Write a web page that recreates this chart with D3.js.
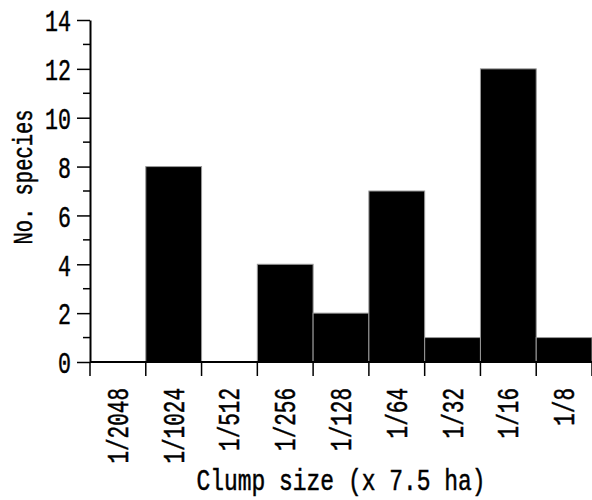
<!DOCTYPE html>
<html>
<head>
<meta charset="utf-8">
<script src="https://cdn.jsdelivr.net/npm/d3@7"></script>
<style>
  body { margin: 0; background: #fff; }
  text { font-family: "Liberation Mono", "DejaVu Sans Mono", monospace; fill: #000; stroke: #000; stroke-width: 0.5px; }
</style>
</head>
<body>
<svg id="chart" width="592" height="500"></svg>
<script>
// clump size classes and species counts
var sizes = ["1/2048", "1/1024", "1/512", "1/256", "1/128", "1/64", "1/32", "1/16", "1/8"];
var species = [0, 8, 0, 4, 2, 7, 1, 12, 1];
var yTicks = [0, 2, 4, 6, 8, 10, 12, 14];
var yMinor = [1, 3, 5, 7, 9, 11, 13];

var margin = {top: 20, right: 0, bottom: 138, left: 90};
var width = 592 - margin.left - margin.right;
var height = 500 - margin.top - margin.bottom;

var svg = d3.select("#chart");
var g = svg.append("g").attr("transform", "translate(" + margin.left + "," + margin.top + ")");

var x = d3.scaleBand().domain(sizes).range([0, width]).padding(0);
var y = d3.scaleLinear().domain([0, 14]).range([height, 0]);

// bars (empty classes are not drawn)
g.selectAll("rect.bar")
	.data(sizes.filter(function(d, i) { return species[i] > 0; }))
	.enter()
	.append("rect")
	.attr("class", "bar")
	.attr("x", function(d) { return x(d); })
	.attr("width", x.bandwidth())
	.attr("y", function(d) { return y(species[sizes.indexOf(d)]); })
	.attr("height", function(d) { return height - y(species[sizes.indexOf(d)]); })
	.attr("fill", "#000")
	.attr("stroke", "#999")
	.attr("stroke-width", 1);

// y axis, major ticks
var yAxis = g.append("g")
	.call(d3.axisLeft(y).tickValues(yTicks).tickSize(13).tickSizeOuter(0).tickFormat(d3.format("d")));
yAxis.select(".domain").attr("stroke-width", 2);
yAxis.selectAll(".tick line").attr("stroke-width", 1.5);
yAxis.selectAll(".tick text")
	.attr("x", -19 / 0.72)
	.attr("dy", "0.36em")
	.attr("transform", "scale(0.72,1)")
	.style("font-size", "30px");

// y axis, minor ticks
g.append("g").selectAll("line")
	.data(yMinor)
	.enter()
	.append("line")
	.attr("x1", -7).attr("x2", 0)
	.attr("y1", function(d) { return y(d); })
	.attr("y2", function(d) { return y(d); })
	.attr("stroke", "#000")
	.attr("stroke-width", 1.5);

// x axis
var xAxis = g.append("g").attr("transform", "translate(0," + height + ")");
xAxis.append("line")
	.attr("x1", 0).attr("x2", width)
	.attr("stroke", "#000").attr("stroke-width", 2);

var edges = sizes.map(function(d) { return x(d); }).concat([x.range()[1]]);
xAxis.selectAll("line.tick")
	.data(edges)
	.enter()
	.append("line")
	.attr("class", "tick")
	.attr("x1", function(d) { return d; })
	.attr("x2", function(d) { return d; })
	.attr("y1", 0).attr("y2", 14)
	.attr("stroke", "#000").attr("stroke-width", 1.5);

xAxis.selectAll("text")
	.data(sizes)
	.enter()
	.append("text")
	.attr("text-anchor", "end")
	.attr("transform", function(d) {
		return "translate(" + (x(d) + x.bandwidth() / 2 + 10) + ",26) rotate(-90) scale(0.7,1)";
	})
	.style("font-size", "30px")
	.text(function(d) { return d; });

// axis titles
svg.append("text")
	.attr("x", margin.left + width / 2)
	.attr("y", 490)
	.attr("text-anchor", "middle")
	.attr("textLength", 289)
	.attr("lengthAdjust", "spacingAndGlyphs")
	.style("font-size", "29px")
	.text("Clump size (x 7.5 ha)");

svg.append("text")
	.attr("transform", "translate(32,177) rotate(-90)")
	.attr("text-anchor", "middle")
	.attr("textLength", 135)
	.attr("lengthAdjust", "spacingAndGlyphs")
	.style("font-size", "28px")
	.text("No. species");
</script>
</body>
</html>
